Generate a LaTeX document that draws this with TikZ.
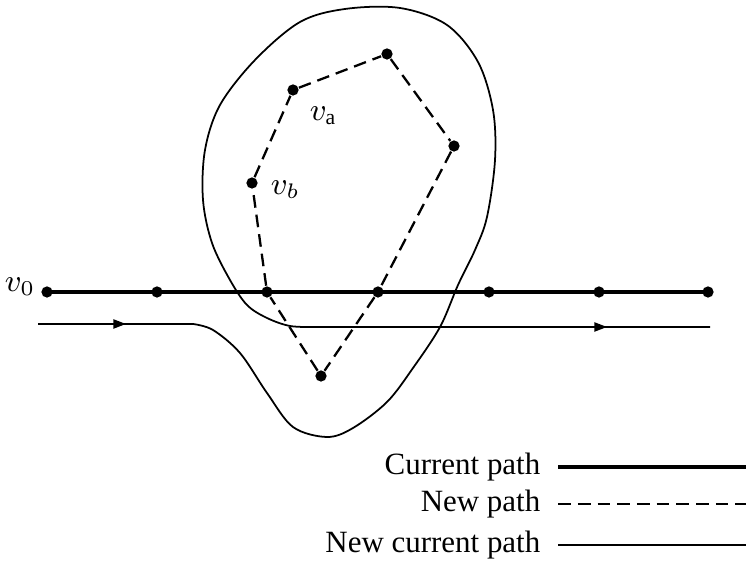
\documentclass[tikz,border=0pt]{standalone}
\usepackage{fontspec}
\setmainfont{Liberation Serif}
\usetikzlibrary{arrows.meta,positioning}

\begin{document}
\begin{tikzpicture}[
  x=0.01cm, y=-0.01cm,
  font=\fontsize{8.8}{10}\selectfont,
  dot/.style={circle, fill=black, inner sep=0pt, minimum size=3.2pt},
  current/.style={line width=1.15pt},
  newpath/.style={line width=0.65pt, dash pattern=on 3.6pt off 2pt},
  newcur/.style={line width=0.5pt},
  tip/.style={-{Triangle[length=3.6pt, width=2.6pt]}},
  legend/.style={anchor=east, inner sep=2pt}
]
\useasboundingbox (0,0) rectangle (746,568);

% current path
\node[dot] (p0) at (47,292) {};
\node[dot] (p1) at (157,292) {};
\node[dot] (p2) at (267,292) {};
\node[dot] (p3) at (378,292) {};
\node[dot] (p4) at (489,292) {};
\node[dot] (p5) at (599,292) {};
\node[dot] (p6) at (708,292) {};
\draw[current] (p0.center) -- (p1.center) -- (p2.center) -- (p3.center)
  -- (p4.center) -- (p5.center) -- (p6.center);
\node[left=-2pt of p0, yshift=1.5pt] (lv0) {$v_0$};

% new path (odd cycle)
\node[dot] (vb) at (252,183) {};
\node[dot] (va) at (293,90) {};
\node[dot] (vt) at (387,54) {};
\node[dot] (vr) at (454,146) {};
\node[dot] (vd) at (321,376) {};
\draw[newpath] (p2) -- (vb) -- (va) -- (vt) -- (vr) -- (p3) -- (vd) -- (p2);
\node[below right=0pt of va] (lva) {$v_{\mathrm{a}}$};
\node[right=0pt of vb, yshift=-2pt] (lvb) {$v_b$};

% new current path, around the cycle
\coordinate (s) at (38,324);
\coordinate (t) at (710,327);
\draw[newcur] (s) -- plot[smooth, tension=0.55] coordinates {
  (193,324) (213,330) (240,353) (267,393) (293,427) (327,437) (353,428)
  (387,402) (413,368) (440,327) (458,285) (475,250) (487,217) (495,160)
  (493,110) (478,62) (447,25) (400,8) (345,9) (300,22) (255,60) (220,105)
  (205,150) (203,200) (212,243) (230,280) (247,305) (267,318) (290,326)
  (315,327)} -- (t);
\coordinate (la) at (126,324);
\coordinate (ra) at (607,327);
\coordinate (rb) at (560,327);
\draw[newcur, tip] (s) -- (la);
\draw[newcur, tip] (rb) -- (ra);

% legend
\node[legend] (lcur) at (548,467) {Current path};
\node[legend] (lnew) at (548,504) {New path};
\node[legend] (lnc) at (548,545) {New current path};
\coordinate (ecur) at (746,467);
\coordinate (enew) at (746,504);
\coordinate (enc) at (746,545);
\draw[current, shorten <=2.9pt] (lcur) -- (ecur);
\draw[newpath, shorten <=2.9pt] (lnew) -- (enew);
\draw[newcur, shorten <=2.9pt] (lnc) -- (enc);

\end{tikzpicture}
\end{document}
